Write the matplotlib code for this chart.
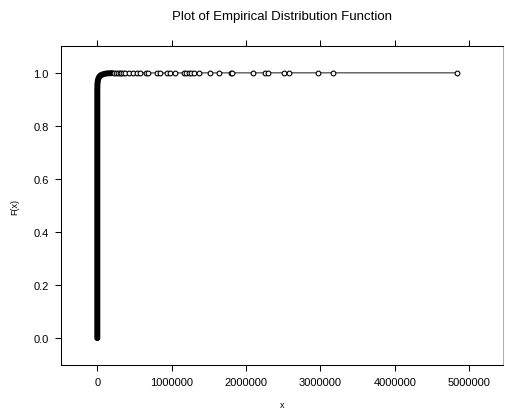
import matplotlib.pyplot as plt
import numpy as np

plt.rcParams['font.family'] = ['Liberation Sans', 'DejaVu Sans']

# dense part of the ECDF near zero (overlapping points read as one thick stroke)
dense_x = [0, 0, 2000, 8000, 20000, 45000, 80000, 130000, 200000]
dense_F = [0.0, 0.94, 0.958, 0.972, 0.983, 0.991, 0.995, 0.998, 0.999]

# sparse tail points, each drawn as an open circle
tail_x = [220000, 250000, 280000, 300000, 320000, 340000, 373000, 431000,
          485000, 539000, 575000, 656000, 687000, 800000, 836000, 935000,
          980000, 1040000, 1160000, 1190000, 1230000, 1260000, 1300000,
          1370000, 1520000, 1630000, 1800000, 1810000, 2090000, 2260000,
          2290000, 2510000, 2580000, 2970000, 3170000, 4830000]
tail_F = [0.9992, 0.9993, 0.9993, 0.9994, 0.9994, 0.9995, 0.9995, 0.9995,
          0.9996, 0.9996, 0.9996, 0.9997, 0.9997, 0.9997, 0.9997, 0.9998,
          0.9998, 0.9998, 0.9998, 0.9998, 0.9998, 0.9999, 0.9999, 0.9999,
          0.9999, 0.9999, 0.9999, 0.9999, 0.9999, 1.0, 1.0, 1.0, 1.0, 1.0,
          1.0, 1.0]

x_ticks = [0, 1000000, 2000000, 3000000, 4000000, 5000000]
y_ticks = [0.0, 0.2, 0.4, 0.6, 0.8, 1.0]

fig = plt.figure(figsize=(5.05, 4.10), dpi=100)
ax = fig.add_axes([0.1208, 0.108, 0.8758, 0.7766])

# thin connecting line through all points
ax.plot(dense_x + tail_x, dense_F + tail_F, color='#222222', lw=0.75, zorder=2)
# thick stroke for the overlapping points
ax.plot(dense_x, dense_F, color='black', lw=4.3, solid_capstyle='round',
        solid_joinstyle='round', zorder=3)
# open circles for the tail
ax.plot(tail_x, tail_F, linestyle='none', marker='o', markersize=3.4,
        markerfacecolor='white', markeredgecolor='black', markeredgewidth=0.8,
        zorder=4)

ax.set_xlim(-488000, 5457000)
ax.set_ylim(-0.1, 1.1)

ax.set_xticks(x_ticks)
ax.set_xticklabels([str(v) for v in x_ticks])
ax.set_yticks(y_ticks)
ax.set_yticklabels(['%.1f' % v for v in y_ticks])
ax.tick_params(axis='both', direction='out', length=4, width=0.75,
               labelsize=8, pad=5)
ax.tick_params(axis='x', top=True, labeltop=False)

for side in ['left', 'bottom', 'top']:
    ax.spines[side].set_linewidth(0.75)
    ax.spines[side].set_color('black')
ax.spines['right'].set_linewidth(0.75)
ax.spines['right'].set_color('#b0b0b0')

ax.set_title('Plot of Empirical Distribution Function', fontsize=9.5, pad=20)
ax.set_xlabel('x', fontsize=6.5, labelpad=9)
ax.set_ylabel('F(x)', fontsize=6.5, labelpad=10)

plt.savefig('out.png', dpi=100)
